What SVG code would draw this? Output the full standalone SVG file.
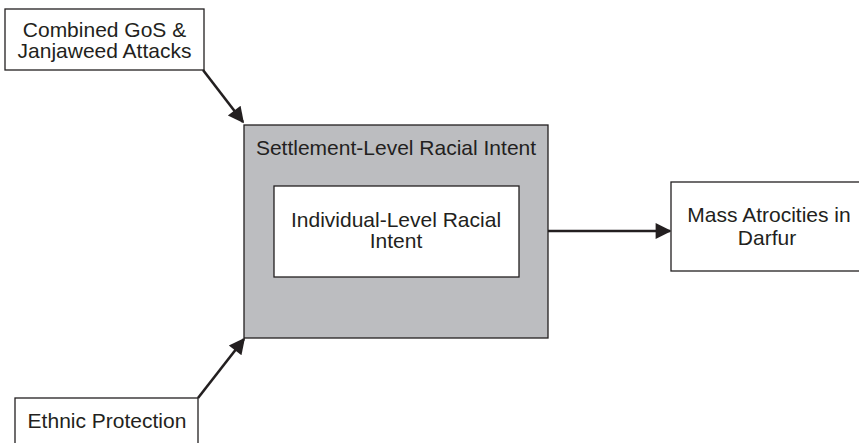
<svg xmlns="http://www.w3.org/2000/svg" width="859" height="443" viewBox="0 0 859 443">
  <style>
    .box { fill: #ffffff; stroke: #231f20; stroke-width: 1.3; }
    .gray { fill: #bcbdc0; stroke: #231f20; stroke-width: 1.3; }
    .lbl { font-family: "Liberation Sans", Arial, sans-serif; font-size: 21px; fill: #231f20; text-anchor: middle; }
    .conn { stroke: #231f20; stroke-width: 2.6; fill: none; }
  </style>
  <defs>
    <marker id="arrow" viewBox="0 0 10 10" refX="9" refY="5" markerUnits="userSpaceOnUse" markerWidth="19" markerHeight="16" orient="auto">
      <path d="M0,0 L10,5 L0,10 z" fill="#231f20"/>
    </marker>
  </defs>
  <rect width="859" height="443" fill="#ffffff"/>

  <g id="connectors">
    <line class="conn" x1="203" y1="70" x2="243" y2="122" marker-end="url(#arrow)"/>
    <line class="conn" x1="198" y1="398" x2="244" y2="339" marker-end="url(#arrow)"/>
    <line class="conn" x1="548" y1="231" x2="670" y2="231" marker-end="url(#arrow)"/>
  </g>

  <g id="combined-attacks">
    <rect class="box" x="5" y="9" width="199" height="61"/>
    <text class="lbl" x="104.5" y="37">Combined GoS &amp;</text>
    <text class="lbl" x="104.5" y="58">Janjaweed Attacks</text>
  </g>

  <g id="settlement-intent">
    <rect class="gray" x="244" y="125" width="304" height="213"/>
    <text class="lbl" x="396" y="155">Settlement-Level Racial Intent</text>
  </g>

  <g id="individual-intent">
    <rect class="box" x="274" y="186" width="245" height="91"/>
    <text class="lbl" x="396" y="227">Individual-Level Racial</text>
    <text class="lbl" x="396" y="248">Intent</text>
  </g>

  <g id="mass-atrocities">
    <rect class="box" x="671" y="182" width="200" height="89"/>
    <text class="lbl" x="769" y="222">Mass Atrocities in</text>
    <text class="lbl" x="767" y="245">Darfur</text>
  </g>

  <g id="ethnic-protection">
    <rect class="box" x="15" y="398" width="183" height="50"/>
    <text class="lbl" x="107" y="428">Ethnic Protection</text>
  </g>
</svg>
